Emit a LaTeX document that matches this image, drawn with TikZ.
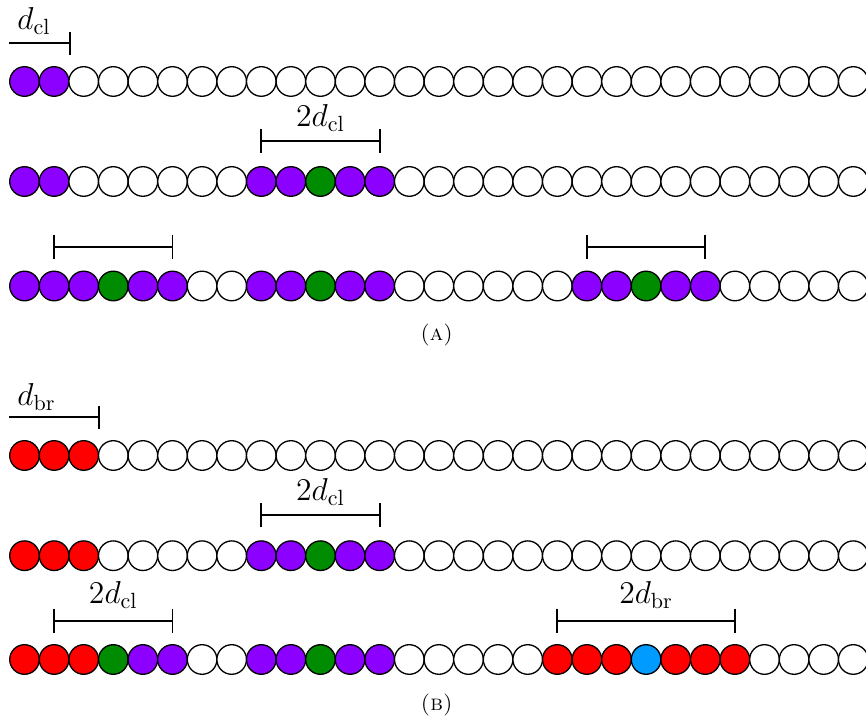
\documentclass[tikz,border=0pt]{standalone}
\usetikzlibrary{calc}
\definecolor{colP}{RGB}{140,0,255}
\definecolor{colG}{RGB}{0,140,0}
\definecolor{colR}{RGB}{255,0,0}
\definecolor{colB}{RGB}{0,155,255}
\definecolor{colW}{RGB}{255,255,255}
% one row of lattice sites: name prefix, vertical position, list of colour codes
\newcommand\sitechain[3]{%
  \foreach \c [count=\k from 0] in {#3}
    \node[site,fill=col\c] (#1-\k) at ({24.5+29.6*\k},#2) {};%
}
\begin{document}
\begin{tikzpicture}[x=0.4545pt,y=-0.4545pt,
  site/.style={circle,draw=black,line width=0.6pt,minimum size=13.45pt,inner sep=0pt},
  bar/.style={line width=0.9pt},
  lbl/.style={font=\Large,inner sep=0pt},
  subcap/.style={font=\normalsize,inner sep=0pt}]
\useasboundingbox (0,0) rectangle (866,722);

% ---------- (a) ----------
\sitechain{a1}{81.5}{P,P,W,W,W,W,W,W,W,W,W,W,W,W,W,W,W,W,W,W,W,W,W,W,W,W,W,W,W}
\sitechain{a2}{181.5}{P,P,W,W,W,W,W,W,P,P,G,P,P,W,W,W,W,W,W,W,W,W,W,W,W,W,W,W,W}
\sitechain{a3}{286}{P,P,P,G,P,P,W,W,P,P,G,P,P,W,W,W,W,W,W,P,P,G,P,P,W,W,W,W,W}

% d_cl bar with a single tick at its right end
\coordinate (a1l) at ($(a1-0.west)+(0,-38.2)$);
\coordinate (a1r) at ($(a1-1.east)+(0,-38.2)$);
\draw[bar] (a1l) -- (a1r);
\draw[bar] ($(a1r)+(0,-11.5)$) -- ($(a1r)+(0,11.5)$);
\node[lbl,anchor=base west] (lab-a1) at (17,30) {$d_{\mathrm{cl}}$};

% 2d_cl bar, row 2
\coordinate (a2l) at ($(a2-8.center)+(0,-40.5)$);
\coordinate (a2r) at ($(a2-12.center)+(0,-40.5)$);
\draw[bar] (a2l) -- (a2r);
\draw[bar] ($(a2l)+(0,-12)$) -- ($(a2l)+(0,12)$);
\draw[bar] ($(a2r)+(0,-12)$) -- ($(a2r)+(0,12)$);
\node[lbl,anchor=base] (lab-a2) at ($(a2l)!0.5!(a2r)+(0,-14.3)$) {$2d_{\mathrm{cl}}$};

% two bars, row 3
\coordinate (a3l) at ($(a3-1.center)+(0,-39.3)$);
\coordinate (a3r) at ($(a3-5.center)+(0,-39.3)$);
\draw[bar] (a3l) -- (a3r);
\draw[bar] ($(a3l)+(0,-12)$) -- ($(a3l)+(0,12)$);
\draw[bar] ($(a3r)+(0,-12)$) -- ($(a3r)+(0,12)$);
\coordinate (a3m) at ($(a3-19.center)+(0,-39.3)$);
\coordinate (a3n) at ($(a3-23.center)+(0,-39.3)$);
\draw[bar] (a3m) -- (a3n);
\draw[bar] ($(a3m)+(0,-12)$) -- ($(a3m)+(0,12)$);
\draw[bar] ($(a3n)+(0,-12)$) -- ($(a3n)+(0,12)$);

\node[subcap] (capA) at (436.7,335.5) {\textsc{(a)}};

% ---------- (b) ----------
\sitechain{b1}{455.5}{R,R,R,W,W,W,W,W,W,W,W,W,W,W,W,W,W,W,W,W,W,W,W,W,W,W,W,W,W}
\sitechain{b2}{555.7}{R,R,R,W,W,W,W,W,P,P,G,P,P,W,W,W,W,W,W,W,W,W,W,W,W,W,W,W,W}
\sitechain{b3}{659.5}{R,R,R,G,P,P,W,W,P,P,G,P,P,W,W,W,W,W,R,R,R,B,R,R,R,W,W,W,W}

% d_br bar with a single tick at its right end
\coordinate (b1l) at ($(b1-0.west)+(0,-38.2)$);
\coordinate (b1r) at ($(b1-2.east)+(0,-38.2)$);
\draw[bar] (b1l) -- (b1r);
\draw[bar] ($(b1r)+(0,-11.5)$) -- ($(b1r)+(0,11.5)$);
\node[lbl,anchor=base west] (lab-b1) at (17,405.5) {$d_{\mathrm{br}}$};

% 2d_cl bar, row 2
\coordinate (b2l) at ($(b2-8.center)+(0,-40.5)$);
\coordinate (b2r) at ($(b2-12.center)+(0,-40.5)$);
\draw[bar] (b2l) -- (b2r);
\draw[bar] ($(b2l)+(0,-12)$) -- ($(b2l)+(0,12)$);
\draw[bar] ($(b2r)+(0,-12)$) -- ($(b2r)+(0,12)$);
\node[lbl,anchor=base] (lab-b2) at ($(b2l)!0.5!(b2r)+(0,-14.3)$) {$2d_{\mathrm{cl}}$};

% 2d_cl and 2d_br bars, row 3
\coordinate (b3l) at ($(b3-1.center)+(0,-38.8)$);
\coordinate (b3r) at ($(b3-5.center)+(0,-38.8)$);
\draw[bar] (b3l) -- (b3r);
\draw[bar] ($(b3l)+(0,-12)$) -- ($(b3l)+(0,12)$);
\draw[bar] ($(b3r)+(0,-12)$) -- ($(b3r)+(0,12)$);
\node[lbl,anchor=base] (lab-b3a) at ($(b3l)!0.5!(b3r)+(0,-17.4)$) {$2d_{\mathrm{cl}}$};
\coordinate (b3m) at ($(b3-18.center)+(0,-38.8)$);
\coordinate (b3n) at ($(b3-24.center)+(0,-38.8)$);
\draw[bar] (b3m) -- (b3n);
\draw[bar] ($(b3m)+(0,-12)$) -- ($(b3m)+(0,12)$);
\draw[bar] ($(b3n)+(0,-12)$) -- ($(b3n)+(0,12)$);
\node[lbl,anchor=base] (lab-b3b) at ($(b3m)!0.5!(b3n)+(0,-17.4)$) {$2d_{\mathrm{br}}$};

\node[subcap] (capB) at (436.7,705.5) {\textsc{(b)}};
\end{tikzpicture}
\end{document}
